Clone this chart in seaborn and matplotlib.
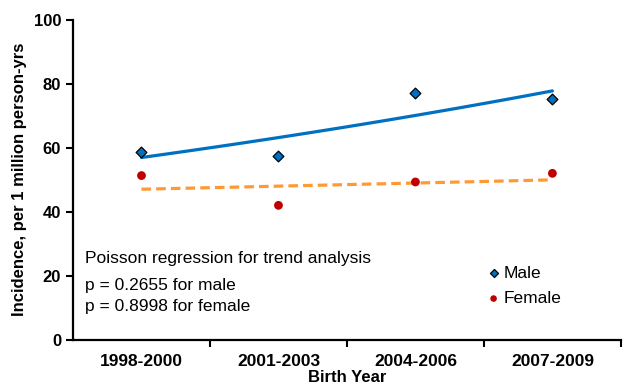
import numpy as np
import pandas as pd
import matplotlib.pyplot as plt
import seaborn as sns

periods = ["1998-2000", "2001-2003", "2004-2006", "2007-2009"]
male = [58.7, 57.5, 77.2, 75.2]
female = [51.3, 42.0, 49.3, 52.0]
p_male = 0.2655
p_female = 0.8998

sns.set_theme(style="white", rc={"text.color": "black", "axes.labelcolor": "black",
                                 "xtick.color": "black", "ytick.color": "black"})
plt.rcParams["font.family"] = ["Liberation Sans", "DejaVu Sans"]

x = np.arange(len(periods))
df = pd.DataFrame({"x": x, "Male": male, "Female": female})


def exp_trend(vals):
    # exponential (log-linear) trend like a Poisson fit
    b, a = np.polyfit(x, np.log(vals), 1)
    xs = np.linspace(x[0], x[-1], 50)
    return xs, np.exp(a + b * xs)


fig, ax = plt.subplots(figsize=(6.24, 3.92), dpi=100)
fig.subplots_adjust(left=0.117, right=0.995, top=0.95, bottom=0.133)

xs, ym = exp_trend(male)
sns.lineplot(x=xs, y=ym, ax=ax, color="#0070C0", lw=2.3)
xs, yf = exp_trend(female)
sns.lineplot(x=xs, y=yf, ax=ax, color="#FF9933", lw=2.3, linestyle=(0, (3, 1.6)))

sns.scatterplot(data=df, x="x", y="Male", ax=ax, marker="D", s=30,
                color="#0070C0", edgecolor="black", linewidth=0.9, label="Male", zorder=3)
sns.scatterplot(data=df, x="x", y="Female", ax=ax, marker="o", s=40,
                color="#C00000", edgecolor="none", label="Female", zorder=3)

ax.set_xlim(-0.5, 3.5)
ax.set_ylim(0, 100)
ax.set_yticks(range(0, 101, 20))
ax.set_xticks([0.5, 1.5, 2.5, 3.5])
ax.set_xticklabels([])
ax.set_xticks(x, minor=True)
ax.set_xticklabels(periods, minor=True)
ax.tick_params(axis="x", which="major", direction="out", length=5, width=1.5, bottom=True)
ax.tick_params(axis="x", which="minor", length=0, pad=10, labelsize=12.5)
ax.tick_params(axis="y", direction="out", length=5, width=1.5, left=True, labelsize=12)
for lab in ax.get_xticklabels(minor=True) + ax.get_yticklabels():
    lab.set_fontweight("bold")

for s in ["top", "right"]:
    ax.spines[s].set_visible(False)
for s in ["left", "bottom"]:
    ax.spines[s].set_color("black")
    ax.spines[s].set_linewidth(1.6)

ax.set_xlabel("Birth Year", fontsize=12, fontweight="bold", labelpad=1)
ax.set_ylabel("Incidence, per 1 million person-yrs", fontsize=12, fontweight="bold", labelpad=5)

ax.text(0.022, 0.253, "Poisson regression for trend analysis", transform=ax.transAxes,
        fontsize=12.5, va="center")
ax.text(0.022, 0.169, f"p = {p_male:.4f} for male", transform=ax.transAxes,
        fontsize=12.5, va="center")
ax.text(0.022, 0.103, f"p = {p_female:.4f} for female", transform=ax.transAxes,
        fontsize=12.5, va="center")

ax.legend(loc="center left", bbox_to_anchor=(0.755, 0.169), frameon=False, fontsize=12.5,
          handlelength=0.8, handletextpad=0.2, labelspacing=0.6, markerscale=0.75,
          borderpad=0, borderaxespad=0)

fig.savefig("out.png", dpi=100)
